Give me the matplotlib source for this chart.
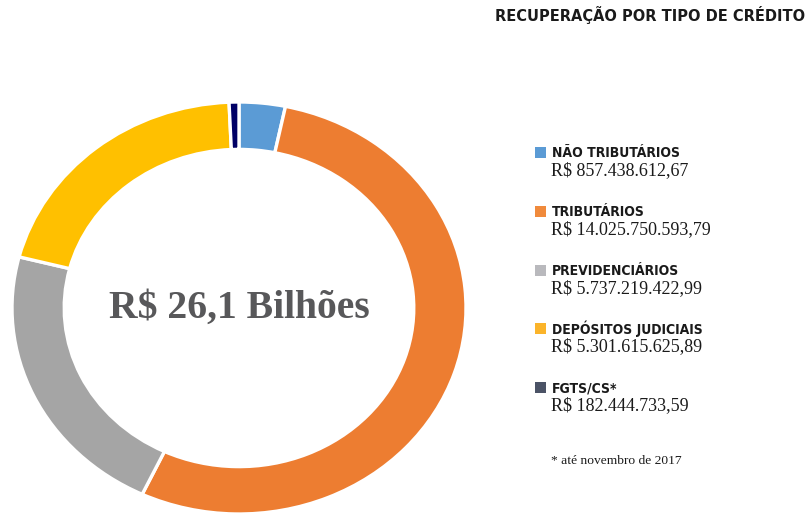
import matplotlib
matplotlib.use("Agg")
import matplotlib.pyplot as plt
from matplotlib.patches import Rectangle
from matplotlib import font_manager

categories = ["NÃO TRIBUTÁRIOS", "TRIBUTÁRIOS", "PREVIDENCIÁRIOS", "DEPÓSITOS JUDICIAIS", "FGTS/CS*"]
values = [857438612.67, 14025750593.79, 5737219422.99, 5301615625.89, 182444733.59]
wedge_colors = ["#5B9BD5", "#ED7D31", "#A5A5A5", "#FFC000", "#000066"]
legend_colors = ["#5B9BD5", "#F08A3C", "#B9B9BD", "#FBB42A", "#4B5366"]
title = "RECUPERAÇÃO POR TIPO DE CRÉDITO"
center_label = "R$ 26,1 Bilhões"
footnote = "* até novembro de 2017"

W, H = 807, 515
fig = plt.figure(figsize=(W / 100, H / 100), dpi=100)

def fx(px):
    return px / W

def fy(py):
    return 1 - py / H

fonts = font_manager.fontManager.ttflist
has_cond = any(f.name == "DejaVu Sans" and f.stretch == "condensed" and f.weight in ("bold", 700)
               for f in fonts)

# donut
cx, cy, rx, ry = 239, 308, 227, 206
ax = fig.add_axes([fx(cx - rx), fy(cy + ry), 2 * rx / W, 2 * ry / H])
ax.pie(values, colors=wedge_colors, startangle=90, counterclock=False,
       radius=1, wedgeprops=dict(width=0.23, edgecolor="white", linewidth=2.4))
ax.set_aspect("auto")
ax.set_xlim(-1, 1)
ax.set_ylim(-1, 1)
ax.axis("off")
ax.text(0, 0, center_label, ha="center", va="center", fontsize=28.5, fontweight="bold",
        family="Liberation Serif", color="#58585A")

# title
fig.text(fx(805), fy(15), title, ha="right", va="center", fontsize=10.5, fontweight="bold",
         family="DejaVu Sans", color="#1a1a1a")

def fmt_brl(v):
    s = f"{v:,.2f}"
    s = s.replace(",", "X").replace(".", ",").replace("X", ".")
    return "R$ " + s

if has_cond:
    head_kw = dict(family="DejaVu Sans", fontstretch="condensed", fontsize=10)
else:
    head_kw = dict(family="Roboto", fontsize=10)

head_y = [152, 211, 270, 328, 387]
for i, (cat, val) in enumerate(zip(categories, values)):
    y = head_y[i]
    fig.patches.append(Rectangle((fx(535), fy(y + 6)), 11 / W, 11 / H,
                                 transform=fig.transFigure, facecolor=legend_colors[i],
                                 edgecolor="none"))
    fig.text(fx(552), fy(y + 1), cat, ha="left", va="center", fontweight="bold",
             color="#1a1a1a", **head_kw)
    fig.text(fx(551), fy(y + 19), fmt_brl(val), ha="left", va="center", fontsize=13,
             family="Liberation Serif", color="#1a1a1a")

fig.text(fx(551), fy(461), footnote, ha="left", va="center", fontsize=9.7,
         family="Liberation Serif", color="#1a1a1a")

fig.savefig("out.png", dpi=100, facecolor="white")
